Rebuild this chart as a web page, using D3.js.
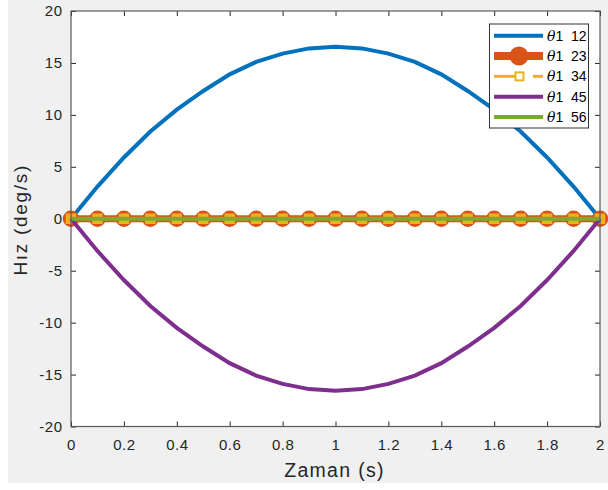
<!DOCTYPE html>
<html><head><meta charset="utf-8">
<script src="https://cdn.jsdelivr.net/npm/d3@7"></script>
<style>html,body{margin:0;padding:0;background:#fff;}svg{display:block;}</style>
</head><body>
<svg id="c" width="608" height="490"></svg>
<script>
const xValues = [0,0.1,0.2,0.3,0.4,0.5,0.6,0.7,0.8,0.9,1.0,1.1,1.2,1.3,1.4,1.5,1.6,1.7,1.8,1.9,2.0];
const theta12 = [0,3.1,5.9,8.4,10.5,12.3,13.9,15.1,15.9,16.4,16.55,16.4,15.9,15.1,13.9,12.3,10.5,8.4,5.9,3.1,0];
const theta23 = [0,0,0,0,0,0,0,0,0,0,0,0,0,0,0,0,0,0,0,0,0];
const theta34 = [0,0,0,0,0,0,0,0,0,0,0,0,0,0,0,0,0,0,0,0,0];
const theta45 = [0,-3.1,-5.9,-8.4,-10.5,-12.3,-13.9,-15.1,-15.9,-16.4,-16.55,-16.4,-15.9,-15.1,-13.9,-12.3,-10.5,-8.4,-5.9,-3.1,0];
const theta56 = [0,0,0,0,0,0,0,0,0,0,0,0,0,0,0,0,0,0,0,0,0];
const seriesNames = ["12","23","34","45","56"];
const xTicks = [0,0.2,0.4,0.6,0.8,1,1.2,1.4,1.6,1.8,2];
const yTicks = [-20,-15,-10,-5,0,5,10,15,20];
const xLabel = "Zaman (s)";
const yLabel = "Hız (deg/s)";

const svg = d3.select("#c");
const FONT = "'Liberation Sans', Arial, Helvetica, sans-serif";
const L = 71, R = 600, T = 11, B = 426.5;

svg.append("rect").attr("x",8).attr("y",0).attr("width",600).attr("height",483).attr("fill","#f0f0f0");
svg.append("rect").attr("x",L).attr("y",T).attr("width",R-L).attr("height",B-T).attr("fill","#fff");

const x = d3.scaleLinear().domain([0,2]).range([L,R]);
const y = d3.scaleLinear().domain([-20,20]).range([B,T]);

const fmt = d => String(d);
function styleAxis(g){
  g.select(".domain").remove();
  g.selectAll(".tick line").attr("stroke","#262626");
  g.selectAll(".tick text").attr("fill","#262626").style("font-family",FONT).style("font-size","15px").style("letter-spacing","0.5px");
}
svg.append("g").attr("transform",`translate(0,${B})`)
  .call(d3.axisBottom(x).tickValues(xTicks).tickFormat(fmt).tickSizeInner(-5).tickSizeOuter(0).tickPadding(13))
  .call(styleAxis);
svg.append("g").attr("transform",`translate(0,${T})`)
  .call(d3.axisTop(x).tickValues(xTicks).tickFormat("").tickSizeInner(-5).tickSizeOuter(0))
  .call(styleAxis);
svg.append("g").attr("transform",`translate(${L},0)`)
  .call(d3.axisLeft(y).tickValues(yTicks).tickFormat(fmt).tickSizeInner(-5).tickSizeOuter(0).tickPadding(8.5))
  .call(styleAxis);
svg.append("g").attr("transform",`translate(${R},0)`)
  .call(d3.axisRight(y).tickValues(yTicks).tickFormat("").tickSizeInner(-5).tickSizeOuter(0))
  .call(styleAxis);

const plot = svg.append("g");
const line = d3.line().x((d,i)=>x(xValues[i])).y(d=>y(d));

const C = {blue:"#0072BD", orange:"#D95319", yellow:"#EDB120", purple:"#7E2F8E", green:"#77AC30"};

plot.append("path").datum(theta12).attr("d",line).attr("fill","none").attr("stroke",C.blue).attr("stroke-width",4);
plot.append("path").datum(theta23).attr("d",line).attr("fill","none").attr("stroke",C.orange).attr("stroke-width",7);
plot.selectAll(".m23").data(theta23).enter().append("circle")
  .attr("cx",(d,i)=>x(xValues[i])).attr("cy",d=>y(d)).attr("r",7.5)
  .attr("fill",C.orange).attr("stroke",C.orange).attr("stroke-width",1.5);
plot.append("path").datum(theta34).attr("d",line).attr("fill","none").attr("stroke",C.yellow).attr("stroke-width",3).attr("stroke-dasharray","9,5");
plot.selectAll(".m34").data(theta34).enter().append("rect")
  .attr("x",(d,i)=>x(xValues[i])-4.5).attr("y",d=>y(d)-4.5).attr("width",9).attr("height",9)
  .attr("fill",C.yellow).attr("stroke",C.yellow).attr("stroke-width",1.5);
plot.append("path").datum(theta45).attr("d",line).attr("fill","none").attr("stroke",C.purple).attr("stroke-width",4);
plot.append("path").datum(theta56).attr("d",line).attr("fill","none").attr("stroke",C.green).attr("stroke-width",4);

// box
svg.append("rect").attr("x",L).attr("y",T).attr("width",R-L).attr("height",B-T)
  .attr("fill","none").attr("stroke","#5a5a5a").attr("stroke-width",1.2);

// axis labels
svg.append("text").attr("x",(L+R)/2 - 1).attr("y",476.5).attr("text-anchor","middle")
  .style("font-family",FONT).style("font-size","19.5px").style("letter-spacing","1.3px").attr("fill","#262626").text(xLabel);
svg.append("text").attr("transform",`translate(27,${(T+B)/2 + 1}) rotate(-90)`).attr("text-anchor","middle")
  .style("font-family",FONT).style("font-size","19px").style("letter-spacing","1.7px").attr("fill","#262626").text(yLabel);

// legend
const lg = svg.append("g");
lg.append("rect").attr("x",489.5).attr("y",24).attr("width",99).attr("height",104)
  .attr("fill","#fff").attr("stroke","#333").attr("stroke-width",1);
const rowY = d3.scaleLinear().domain([0,4]).range([35.7,117]);
const styles = [
  {c:C.blue,w:4},{c:C.orange,w:8,m:"circle"},{c:C.yellow,w:3,m:"square",dash:true},{c:C.purple,w:4},{c:C.green,w:4}
];
seriesNames.forEach((nm,i)=>{
  const yy = rowY(i), s = styles[i];
  if(s.dash){
    lg.append("line").attr("x1",494).attr("x2",522).attr("y1",yy).attr("y2",yy).attr("stroke",s.c).attr("stroke-width",s.w);
    lg.append("line").attr("x1",533).attr("x2",543).attr("y1",yy).attr("y2",yy).attr("stroke",s.c).attr("stroke-width",s.w);
    lg.append("rect").attr("x",515.5).attr("y",yy-4).attr("width",8).attr("height",8).attr("fill","#fff").attr("stroke",s.c).attr("stroke-width",2);
  } else {
    lg.append("line").attr("x1",494).attr("x2",543).attr("y1",yy).attr("y2",yy).attr("stroke",s.c).attr("stroke-width",s.w);
  }
  if(s.m==="circle"){
    lg.append("circle").attr("cx",519).attr("cy",yy).attr("r",9.5).attr("fill",s.c);
  }
  const t = lg.append("text").attr("x",547).attr("y",yy+5).style("font-family",FONT).style("font-size","14px").attr("fill","#000");
  t.append("tspan").style("font-family","'DejaVu Serif','Liberation Serif',serif").style("font-style","italic").text("θ");
  t.append("tspan").text("1\u00a0\u00a0" + nm);
});
</script>
</body></html>
